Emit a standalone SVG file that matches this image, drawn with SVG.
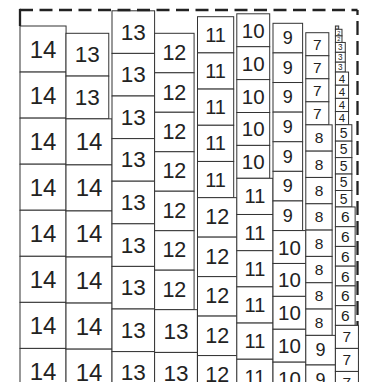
<svg xmlns="http://www.w3.org/2000/svg" width="366" height="382" viewBox="0 0 366 382">
<style>
rect{fill:#fff;stroke:#333;stroke-width:1}
text{font-family:"Liberation Sans",Arial,sans-serif;fill:#222;text-anchor:middle;dominant-baseline:central}
.b{fill:none;stroke:#222;stroke-width:2.3}
.f1{font-size:2.8px}.f2{font-size:5.6px}.f3{font-size:8.2px}.f4{font-size:11.5px}.f5{font-size:14px}.f6{font-size:15.5px}.f7{font-size:15.5px}.f8{font-size:15.5px}.f9{font-size:18px}.f10{font-size:20.5px}.f11{font-size:20px}.f12{font-size:21.5px}.f13{font-size:22.5px}.f14{font-size:24px}
</style>
<rect width="366" height="382" style="fill:#fff;stroke:none"/>
<g id="border-right"><path class="b" d="M357.5,10 V382" stroke-dasharray="14 6" stroke-dashoffset="9"/></g>
<g id="col1">
<g id="n1-1"><rect x="20" y="26" width="46.06" height="46.06"/><text class="f14" x="43.03" y="49.03">14</text></g>
<g id="n1-2"><rect x="20" y="72.06" width="46.06" height="46.06"/><text class="f14" x="43.03" y="95.09">14</text></g>
<g id="n1-3"><rect x="20" y="118.12" width="46.06" height="46.06"/><text class="f14" x="43.03" y="141.15">14</text></g>
<g id="n1-4"><rect x="20" y="164.18" width="46.06" height="46.06"/><text class="f14" x="43.03" y="187.21">14</text></g>
<g id="n1-5"><rect x="20" y="210.24" width="46.06" height="46.06"/><text class="f14" x="43.03" y="233.27">14</text></g>
<g id="n1-6"><rect x="20" y="256.3" width="46.06" height="46.06"/><text class="f14" x="43.03" y="279.33">14</text></g>
<g id="n1-7"><rect x="20" y="302.36" width="46.06" height="46.06"/><text class="f14" x="43.03" y="325.39">14</text></g>
<g id="n1-8"><rect x="20" y="348.42" width="46.06" height="46.06"/><text class="f14" x="43.03" y="371.45">14</text></g>
</g>
<g id="col2">
<g id="n2-1"><rect x="66" y="33.3" width="42.77" height="42.77"/><text class="f13" x="87.39" y="54.69">13</text></g>
<g id="n2-2"><rect x="66" y="76.07" width="42.77" height="42.77"/><text class="f13" x="87.39" y="97.46">13</text></g>
<g id="n2-3"><rect x="66" y="118.84" width="46.06" height="46.06"/><text class="f14" x="89.03" y="141.87">14</text></g>
<g id="n2-4"><rect x="66" y="164.9" width="46.06" height="46.06"/><text class="f14" x="89.03" y="187.93">14</text></g>
<g id="n2-5"><rect x="66" y="210.96" width="46.06" height="46.06"/><text class="f14" x="89.03" y="233.99">14</text></g>
<g id="n2-6"><rect x="66" y="257.02" width="46.06" height="46.06"/><text class="f14" x="89.03" y="280.05">14</text></g>
<g id="n2-7"><rect x="66" y="303.08" width="46.06" height="46.06"/><text class="f14" x="89.03" y="326.11">14</text></g>
<g id="n2-8"><rect x="66" y="349.14" width="46.06" height="46.06"/><text class="f14" x="89.03" y="372.17">14</text></g>
</g>
<g id="col3">
<g id="n3-1"><rect x="112" y="10.8" width="42.6" height="42.6"/><text class="f13" x="133.3" y="32.1">13</text></g>
<g id="n3-2"><rect x="112" y="53.4" width="42.6" height="42.6"/><text class="f13" x="133.3" y="74.7">13</text></g>
<g id="n3-3"><rect x="112" y="96" width="42.6" height="42.6"/><text class="f13" x="133.3" y="117.3">13</text></g>
<g id="n3-4"><rect x="112" y="138.6" width="42.6" height="42.6"/><text class="f13" x="133.3" y="159.9">13</text></g>
<g id="n3-5"><rect x="112" y="181.2" width="42.6" height="42.6"/><text class="f13" x="133.3" y="202.5">13</text></g>
<g id="n3-6"><rect x="112" y="223.8" width="42.6" height="42.6"/><text class="f13" x="133.3" y="245.1">13</text></g>
<g id="n3-7"><rect x="112" y="266.4" width="42.6" height="42.6"/><text class="f13" x="133.3" y="287.7">13</text></g>
<g id="n3-8"><rect x="112" y="309" width="42.6" height="42.6"/><text class="f13" x="133.3" y="330.3">13</text></g>
<g id="n3-9"><rect x="112" y="351.6" width="42.6" height="42.6"/><text class="f13" x="133.3" y="372.9">13</text></g>
</g>
<g id="col4">
<g id="n4-1"><rect x="154.6" y="33.3" width="39.48" height="39.48"/><text class="f12" x="174.34" y="53.04">12</text></g>
<g id="n4-2"><rect x="154.6" y="72.78" width="39.48" height="39.48"/><text class="f12" x="174.34" y="92.52">12</text></g>
<g id="n4-3"><rect x="154.6" y="112.26" width="39.48" height="39.48"/><text class="f12" x="174.34" y="132">12</text></g>
<g id="n4-4"><rect x="154.6" y="151.74" width="39.48" height="39.48"/><text class="f12" x="174.34" y="171.48">12</text></g>
<g id="n4-5"><rect x="154.6" y="191.22" width="39.48" height="39.48"/><text class="f12" x="174.34" y="210.96">12</text></g>
<g id="n4-6"><rect x="154.6" y="230.7" width="39.48" height="39.48"/><text class="f12" x="174.34" y="250.44">12</text></g>
<g id="n4-7"><rect x="154.6" y="270.18" width="39.48" height="39.48"/><text class="f12" x="174.34" y="289.92">12</text></g>
<g id="n4-8"><rect x="154.6" y="309.66" width="42.77" height="42.77"/><text class="f13" x="175.99" y="331.05">13</text></g>
<g id="n4-9"><rect x="154.6" y="352.43" width="42.77" height="42.77"/><text class="f13" x="175.99" y="373.82">13</text></g>
</g>
<g id="col5">
<g id="n5-1"><rect x="197.5" y="16.7" width="36.19" height="36.19"/><text class="f11" x="215.6" y="34.8">11</text></g>
<g id="n5-2"><rect x="197.5" y="52.89" width="36.19" height="36.19"/><text class="f11" x="215.6" y="70.99">11</text></g>
<g id="n5-3"><rect x="197.5" y="89.08" width="36.19" height="36.19"/><text class="f11" x="215.6" y="107.18">11</text></g>
<g id="n5-4"><rect x="197.5" y="125.27" width="36.19" height="36.19"/><text class="f11" x="215.6" y="143.37">11</text></g>
<g id="n5-5"><rect x="197.5" y="161.46" width="36.19" height="36.19"/><text class="f11" x="215.6" y="179.56">11</text></g>
<g id="n5-6"><rect x="197.5" y="197.65" width="39.48" height="39.48"/><text class="f12" x="217.24" y="217.39">12</text></g>
<g id="n5-7"><rect x="197.5" y="237.13" width="39.48" height="39.48"/><text class="f12" x="217.24" y="256.87">12</text></g>
<g id="n5-8"><rect x="197.5" y="276.61" width="39.48" height="39.48"/><text class="f12" x="217.24" y="296.35">12</text></g>
<g id="n5-9"><rect x="197.5" y="316.09" width="39.48" height="39.48"/><text class="f12" x="217.24" y="335.83">12</text></g>
<g id="n5-10"><rect x="197.5" y="355.57" width="39.48" height="39.48"/><text class="f12" x="217.24" y="375.31">12</text></g>
</g>
<g id="col6">
<g id="n6-1"><rect x="236.8" y="13.8" width="32.9" height="32.9"/><text class="f10" x="253.25" y="30.25">10</text></g>
<g id="n6-2"><rect x="236.8" y="46.7" width="32.9" height="32.9"/><text class="f10" x="253.25" y="63.15">10</text></g>
<g id="n6-3"><rect x="236.8" y="79.6" width="32.9" height="32.9"/><text class="f10" x="253.25" y="96.05">10</text></g>
<g id="n6-4"><rect x="236.8" y="112.5" width="32.9" height="32.9"/><text class="f10" x="253.25" y="128.95">10</text></g>
<g id="n6-5"><rect x="236.8" y="145.4" width="32.9" height="32.9"/><text class="f10" x="253.25" y="161.85">10</text></g>
<g id="n6-6"><rect x="236.8" y="178.3" width="36.19" height="36.19"/><text class="f11" x="254.9" y="196.4">11</text></g>
<g id="n6-7"><rect x="236.8" y="214.49" width="36.19" height="36.19"/><text class="f11" x="254.9" y="232.59">11</text></g>
<g id="n6-8"><rect x="236.8" y="250.68" width="36.19" height="36.19"/><text class="f11" x="254.9" y="268.78">11</text></g>
<g id="n6-9"><rect x="236.8" y="286.87" width="36.19" height="36.19"/><text class="f11" x="254.9" y="304.97">11</text></g>
<g id="n6-10"><rect x="236.8" y="323.06" width="36.19" height="36.19"/><text class="f11" x="254.9" y="341.16">11</text></g>
<g id="n6-11"><rect x="236.8" y="359.25" width="36.19" height="36.19"/><text class="f11" x="254.9" y="377.35">11</text></g>
</g>
<g id="col7">
<g id="n7-1"><rect x="273" y="23.3" width="29.61" height="29.61"/><text class="f9" x="287.8" y="38.1">9</text></g>
<g id="n7-2"><rect x="273" y="52.91" width="29.61" height="29.61"/><text class="f9" x="287.8" y="67.72">9</text></g>
<g id="n7-3"><rect x="273" y="82.52" width="29.61" height="29.61"/><text class="f9" x="287.8" y="97.33">9</text></g>
<g id="n7-4"><rect x="273" y="112.13" width="29.61" height="29.61"/><text class="f9" x="287.8" y="126.94">9</text></g>
<g id="n7-5"><rect x="273" y="141.74" width="29.61" height="29.61"/><text class="f9" x="287.8" y="156.55">9</text></g>
<g id="n7-6"><rect x="273" y="171.35" width="29.61" height="29.61"/><text class="f9" x="287.8" y="186.16">9</text></g>
<g id="n7-7"><rect x="273" y="200.96" width="29.61" height="29.61"/><text class="f9" x="287.8" y="215.77">9</text></g>
<g id="n7-8"><rect x="273" y="230.57" width="32.9" height="32.9"/><text class="f10" x="289.45" y="247.02">10</text></g>
<g id="n7-9"><rect x="273" y="263.47" width="32.9" height="32.9"/><text class="f10" x="289.45" y="279.92">10</text></g>
<g id="n7-10"><rect x="273" y="296.37" width="32.9" height="32.9"/><text class="f10" x="289.45" y="312.82">10</text></g>
<g id="n7-11"><rect x="273" y="329.27" width="32.9" height="32.9"/><text class="f10" x="289.45" y="345.72">10</text></g>
<g id="n7-12"><rect x="273" y="362.17" width="32.9" height="32.9"/><text class="f10" x="289.45" y="378.62">10</text></g>
</g>
<g id="col8">
<g id="n8-1"><rect x="305.8" y="32.7" width="23.03" height="23.03"/><text class="f7" x="317.32" y="44.22">7</text></g>
<g id="n8-2"><rect x="305.8" y="55.73" width="23.03" height="23.03"/><text class="f7" x="317.32" y="67.25">7</text></g>
<g id="n8-3"><rect x="305.8" y="78.76" width="23.03" height="23.03"/><text class="f7" x="317.32" y="90.28">7</text></g>
<g id="n8-4"><rect x="305.8" y="101.79" width="23.03" height="23.03"/><text class="f7" x="317.32" y="113.31">7</text></g>
<g id="n8-5"><rect x="305.8" y="124.82" width="26.32" height="26.32"/><text class="f8" x="318.96" y="137.98">8</text></g>
<g id="n8-6"><rect x="305.8" y="151.14" width="26.32" height="26.32"/><text class="f8" x="318.96" y="164.3">8</text></g>
<g id="n8-7"><rect x="305.8" y="177.46" width="26.32" height="26.32"/><text class="f8" x="318.96" y="190.62">8</text></g>
<g id="n8-8"><rect x="305.8" y="203.78" width="26.32" height="26.32"/><text class="f8" x="318.96" y="216.94">8</text></g>
<g id="n8-9"><rect x="305.8" y="230.1" width="26.32" height="26.32"/><text class="f8" x="318.96" y="243.26">8</text></g>
<g id="n8-10"><rect x="305.8" y="256.42" width="26.32" height="26.32"/><text class="f8" x="318.96" y="269.58">8</text></g>
<g id="n8-11"><rect x="305.8" y="282.74" width="26.32" height="26.32"/><text class="f8" x="318.96" y="295.9">8</text></g>
<g id="n8-12"><rect x="305.8" y="309.06" width="26.32" height="26.32"/><text class="f8" x="318.96" y="322.22">8</text></g>
<g id="n8-13"><rect x="305.8" y="335.38" width="29.61" height="29.61"/><text class="f9" x="320.6" y="350.19">9</text></g>
<g id="n8-14"><rect x="305.8" y="364.99" width="29.61" height="29.61"/><text class="f9" x="320.6" y="379.8">9</text></g>
</g>
<g id="col9">
<g id="n9-1"><rect x="335.4" y="26" width="3.29" height="3.29"/><text class="f1" x="337.05" y="27.65">1</text></g>
<g id="n9-2"><rect x="335.4" y="29.29" width="6.58" height="6.58"/><text class="f2" x="338.69" y="32.58">2</text></g>
<g id="n9-3"><rect x="335.4" y="35.87" width="6.58" height="6.58"/><text class="f2" x="338.69" y="39.16">2</text></g>
<g id="n9-4"><rect x="335.4" y="42.45" width="9.87" height="9.87"/><text class="f3" x="340.34" y="47.39">3</text></g>
<g id="n9-5"><rect x="335.4" y="52.32" width="9.87" height="9.87"/><text class="f3" x="340.34" y="57.26">3</text></g>
<g id="n9-6"><rect x="335.4" y="62.19" width="9.87" height="9.87"/><text class="f3" x="340.34" y="67.13">3</text></g>
<g id="n9-7"><rect x="335.4" y="72.06" width="13.16" height="13.16"/><text class="f4" x="341.98" y="78.64">4</text></g>
<g id="n9-8"><rect x="335.4" y="85.22" width="13.16" height="13.16"/><text class="f4" x="341.98" y="91.8">4</text></g>
<g id="n9-9"><rect x="335.4" y="98.38" width="13.16" height="13.16"/><text class="f4" x="341.98" y="104.96">4</text></g>
<g id="n9-10"><rect x="335.4" y="111.54" width="13.16" height="13.16"/><text class="f4" x="341.98" y="118.12">4</text></g>
<g id="n9-11"><rect x="335.4" y="124.7" width="16.45" height="16.45"/><text class="f5" x="343.63" y="132.93">5</text></g>
<g id="n9-12"><rect x="335.4" y="141.15" width="16.45" height="16.45"/><text class="f5" x="343.63" y="149.38">5</text></g>
<g id="n9-13"><rect x="335.4" y="157.6" width="16.45" height="16.45"/><text class="f5" x="343.63" y="165.83">5</text></g>
<g id="n9-14"><rect x="335.4" y="174.05" width="16.45" height="16.45"/><text class="f5" x="343.63" y="182.28">5</text></g>
<g id="n9-15"><rect x="335.4" y="190.5" width="16.45" height="16.45"/><text class="f5" x="343.63" y="198.73">5</text></g>
<g id="n9-16"><rect x="335.4" y="206.95" width="19.74" height="19.74"/><text class="f6" x="345.27" y="216.82">6</text></g>
<g id="n9-17"><rect x="335.4" y="226.69" width="19.74" height="19.74"/><text class="f6" x="345.27" y="236.56">6</text></g>
<g id="n9-18"><rect x="335.4" y="246.43" width="19.74" height="19.74"/><text class="f6" x="345.27" y="256.3">6</text></g>
<g id="n9-19"><rect x="335.4" y="266.17" width="19.74" height="19.74"/><text class="f6" x="345.27" y="276.04">6</text></g>
<g id="n9-20"><rect x="335.4" y="285.91" width="19.74" height="19.74"/><text class="f6" x="345.27" y="295.78">6</text></g>
<g id="n9-21"><rect x="335.4" y="305.65" width="19.74" height="19.74"/><text class="f6" x="345.27" y="315.52">6</text></g>
<g id="n9-22"><rect x="335.4" y="325.39" width="23.03" height="23.03"/><text class="f7" x="346.92" y="336.91">7</text></g>
<g id="n9-23"><rect x="335.4" y="348.42" width="23.03" height="23.03"/><text class="f7" x="346.92" y="359.94">7</text></g>
<g id="n9-24"><rect x="335.4" y="371.45" width="23.03" height="23.03"/><text class="f7" x="346.92" y="382.97">7</text></g>
</g>
<g id="border-top"><path class="b" d="M20,10 H357.5" stroke-dasharray="13 6.5"/><path class="b" d="M20,8.85 V26"/></g>
</svg>
